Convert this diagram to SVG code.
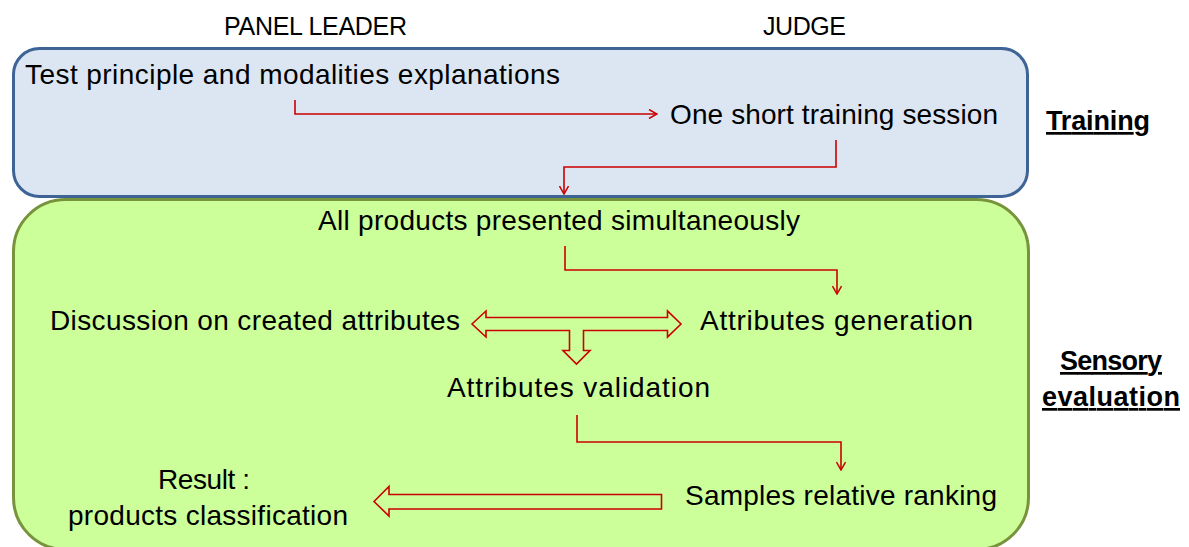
<svg xmlns="http://www.w3.org/2000/svg" width="1189" height="547" viewBox="0 0 1189 547">
<defs>
<marker id="open" viewBox="0 0 10 10" refX="9" refY="5" markerWidth="10" markerHeight="10" markerUnits="userSpaceOnUse" orient="auto">
<path d="M1,0.5 L9,5 L1,9.5" fill="none" stroke="#cc0000" stroke-width="1.5"/>
</marker>
</defs>
<style>
text{font-family:"Liberation Sans",Arial,sans-serif;font-size:28px;fill:#000}
.h{font-size:25px}
.hd{font-weight:bold;text-decoration:underline;font-size:27px}
.ln{fill:none;stroke:#cc0000;stroke-width:1.6}
.blk{fill:none;stroke:#cc0000;stroke-width:1.6;stroke-linejoin:miter}
</style>
<rect width="1189" height="547" fill="#ffffff"/>
<g id="sensory-box">
<rect x="13.5" y="199.5" width="1015" height="350" rx="52" ry="52" fill="#ccff99" stroke="#77933c" stroke-width="3"/>
</g>
<g id="training-box">
<rect x="13.5" y="48.5" width="1014" height="148" rx="26" ry="26" fill="#dce6f2" stroke="#3e6496" stroke-width="3"/>
</g>
<g id="col-headers">
<text class="h" x="224" y="35" textLength="183">PANEL LEADER</text>
<text class="h" x="763" y="35" textLength="83">JUDGE</text>
</g>
<g id="n-explain"><text x="25" y="84" textLength="535">Test principle and modalities explanations</text></g>
<g id="n-training-session"><text x="670" y="124" textLength="328">One short training session</text></g>
<g id="lbl-training"><text class="hd" x="1046" y="130" textLength="104">Training</text></g>
<g id="n-all-products"><text x="318" y="230" textLength="482">All products presented simultaneously</text></g>
<g id="n-discussion"><text x="50" y="330" textLength="410">Discussion on created attributes</text></g>
<g id="n-generation"><text x="700" y="330" textLength="273">Attributes generation</text></g>
<g id="n-validation"><text x="447" y="397" textLength="263">Attributes validation</text></g>
<g id="lbl-sensory"><text class="hd" x="1060" y="370" textLength="102">Sensory</text><text class="hd" x="1042" y="406" textLength="138">evaluation</text></g>
<g id="n-result"><text x="158" y="489" textLength="92">Result :</text><text x="68" y="525" textLength="280">products classification</text></g>
<g id="n-ranking"><text x="685" y="505" textLength="312">Samples relative ranking</text></g>
<g id="connectors">
<path class="ln" d="M295,100 V114 H657" marker-end="url(#open)"/>
<path class="ln" d="M836,140 V167 H564 V194" marker-end="url(#open)"/>
<path class="ln" d="M565,246 V270 H837 V294" marker-end="url(#open)"/>
<path class="ln" d="M577,415 V442 H841 V470" marker-end="url(#open)"/>
<path class="blk" d="M472,324 L486,311 L486,317.5 L667.5,317.5 L667.5,311 L681,324 L667.5,337 L667.5,330.5 L583.5,330.5 L583.5,350.5 L590,350.5 L576.5,364 L563,350.5 L569.5,350.5 L569.5,330.5 L486,330.5 L486,337 Z"/>
<path class="blk" d="M374,501.5 L389,486.5 L389,494.5 L661.5,494.5 L661.5,509 L389,509 L389,516 Z"/>
</g>
</svg>
